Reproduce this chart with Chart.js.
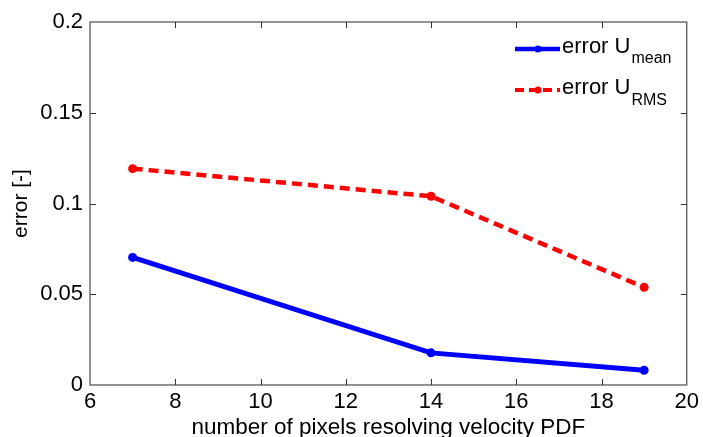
<!DOCTYPE html>
<html>
<head>
<meta charset="utf-8">
<script src="https://cdn.jsdelivr.net/npm/chart.js@4"></script>
<style>
  html, body { margin: 0; padding: 0; background: #fff; }
  #wrap { width: 703px; height: 437px; }
</style>
</head>
<body>
<div id="wrap"><canvas id="errChart" width="703" height="437"></canvas></div>
<script>
// pixels resolving the velocity PDF
const pixels = [7, 14, 19];
const errMean = [0.0703, 0.0177, 0.0081];
const errRMS = [0.1192, 0.1040, 0.0538];
const xTicks = [6, 8, 10, 12, 14, 16, 18, 20];
const yTicks = [0, 0.05, 0.1, 0.15, 0.2];

const FONT = "Liberation Sans, Arial, sans-serif";
const colorMean = "rgb(0, 0, 255)";
const colorRMS = "rgb(255, 0, 0)";
const frameColor = "#5a5a5a";

const toXY = (xs, ys) => xs.map((x, i) => ({x: x, y: ys[i]}));

// matlab style box: frame + inward ticks on all four sides
const boxPlugin = {
    id: 'box',
    afterDraw(chart) {
        const {ctx, chartArea: a, scales: {x, y}} = chart;
        ctx.save();
        ctx.strokeStyle = frameColor;
        ctx.lineWidth = 1.3;
        ctx.strokeRect(a.left, a.top, a.right - a.left, a.bottom - a.top);
        ctx.lineWidth = 1;
        ctx.strokeStyle = "#333";
        const tl = 6;
        ctx.beginPath();
        xTicks.slice(1, -1).forEach(v => {
            const px = Math.round(x.getPixelForValue(v)) + 0.5;
            ctx.moveTo(px, a.bottom); ctx.lineTo(px, a.bottom - tl);
            ctx.moveTo(px, a.top); ctx.lineTo(px, a.top + tl);
        });
        yTicks.slice(1, -1).forEach(v => {
            const py = Math.round(y.getPixelForValue(v)) + 0.5;
            ctx.moveTo(a.left, py); ctx.lineTo(a.left + tl, py);
            ctx.moveTo(a.right, py); ctx.lineTo(a.right - tl, py);
        });
        ctx.stroke();
        ctx.restore();
    }
};

// legend with subscripts (chart.js legend can't do those)
const subLegend = {
    id: 'subLegend',
    afterDraw(chart) {
        const ctx = chart.ctx;
        const items = [
            {sub: "mean", color: colorMean, dash: [], width: 4.5, y: 49, base: 53, subBase: 63, subSize: 16},
            {sub: "RMS", color: colorRMS, dash: [9, 5], width: 4, y: 90, base: 94, subBase: 105, subSize: 16},
        ];
        ctx.save();
        items.forEach(it => {
            ctx.strokeStyle = it.color;
            ctx.lineWidth = it.width;
            ctx.setLineDash(it.dash);
            ctx.beginPath();
            ctx.moveTo(515, it.y); ctx.lineTo(560, it.y);
            ctx.stroke();
            ctx.setLineDash([]);
            ctx.fillStyle = it.color;
            ctx.beginPath();
            ctx.arc(538, it.y, 3.5, 0, Math.PI * 2);
            ctx.fill();
            ctx.fillStyle = "#000";
            ctx.textBaseline = "alphabetic";
            ctx.font = `22px ${FONT}`;
            ctx.fillText("error U", 562, it.base);
            const w = ctx.measureText("error U").width;
            ctx.font = `${it.subSize}px ${FONT}`;
            ctx.fillText(it.sub, 562 + w + 1, it.subBase);
        });
        ctx.restore();
    }
};

new Chart(document.getElementById("errChart"), {
    type: 'line',
    data: {
        datasets: [
            {
                label: "error U mean",
                data: toXY(pixels, errMean),
                borderColor: colorMean,
                backgroundColor: colorMean,
                borderWidth: 5,
                pointRadius: 4.5,
                pointBorderWidth: 0,
                tension: 0,
            },
            {
                label: "error U RMS",
                data: toXY(pixels, errRMS),
                borderColor: colorRMS,
                backgroundColor: colorRMS,
                borderWidth: 4.5,
                borderDash: [10, 6],
                pointRadius: 4.5,
                pointBorderWidth: 0,
                tension: 0,
            }
        ]
    },
    options: {
        responsive: false,
        animation: false,
        layout: { padding: { top: 22, right: 14, left: 0, bottom: 0 } },
        plugins: {
            legend: { display: false },
            tooltip: { enabled: false },
        },
        scales: {
            x: {
                type: 'linear',
                min: 6, max: 20,
                afterBuildTicks: s => { s.ticks = xTicks.map(v => ({value: v})); },
                afterFit: s => { s.height = 52; },
                grid: { display: false, drawTicks: false },
                border: { display: false },
                ticks: { color: "#000", font: { family: FONT, size: 22 }, padding: 4, maxRotation: 0 },
                title: {
                    display: true,
                    text: "number of pixels resolving velocity PDF",
                    color: "#000",
                    font: { family: FONT, size: 22.5 },
                    padding: { top: 0, bottom: -4 },
                }
            },
            y: {
                min: 0, max: 0.2,
                afterBuildTicks: s => { s.ticks = yTicks.map(v => ({value: v})); },
                afterFit: s => { s.width = 90; },
                grid: { display: false, drawTicks: false },
                border: { display: false },
                ticks: {
                    color: "#000", font: { family: FONT, size: 22 }, padding: 7,
                    callback: v => String(v),
                },
                title: {
                    display: true,
                    text: "error [-]",
                    color: "#000",
                    font: { family: FONT, size: 21 },
                    padding: { top: 9, bottom: 0 },
                }
            }
        }
    },
    plugins: [boxPlugin, subLegend]
});
</script>
</body>
</html>
